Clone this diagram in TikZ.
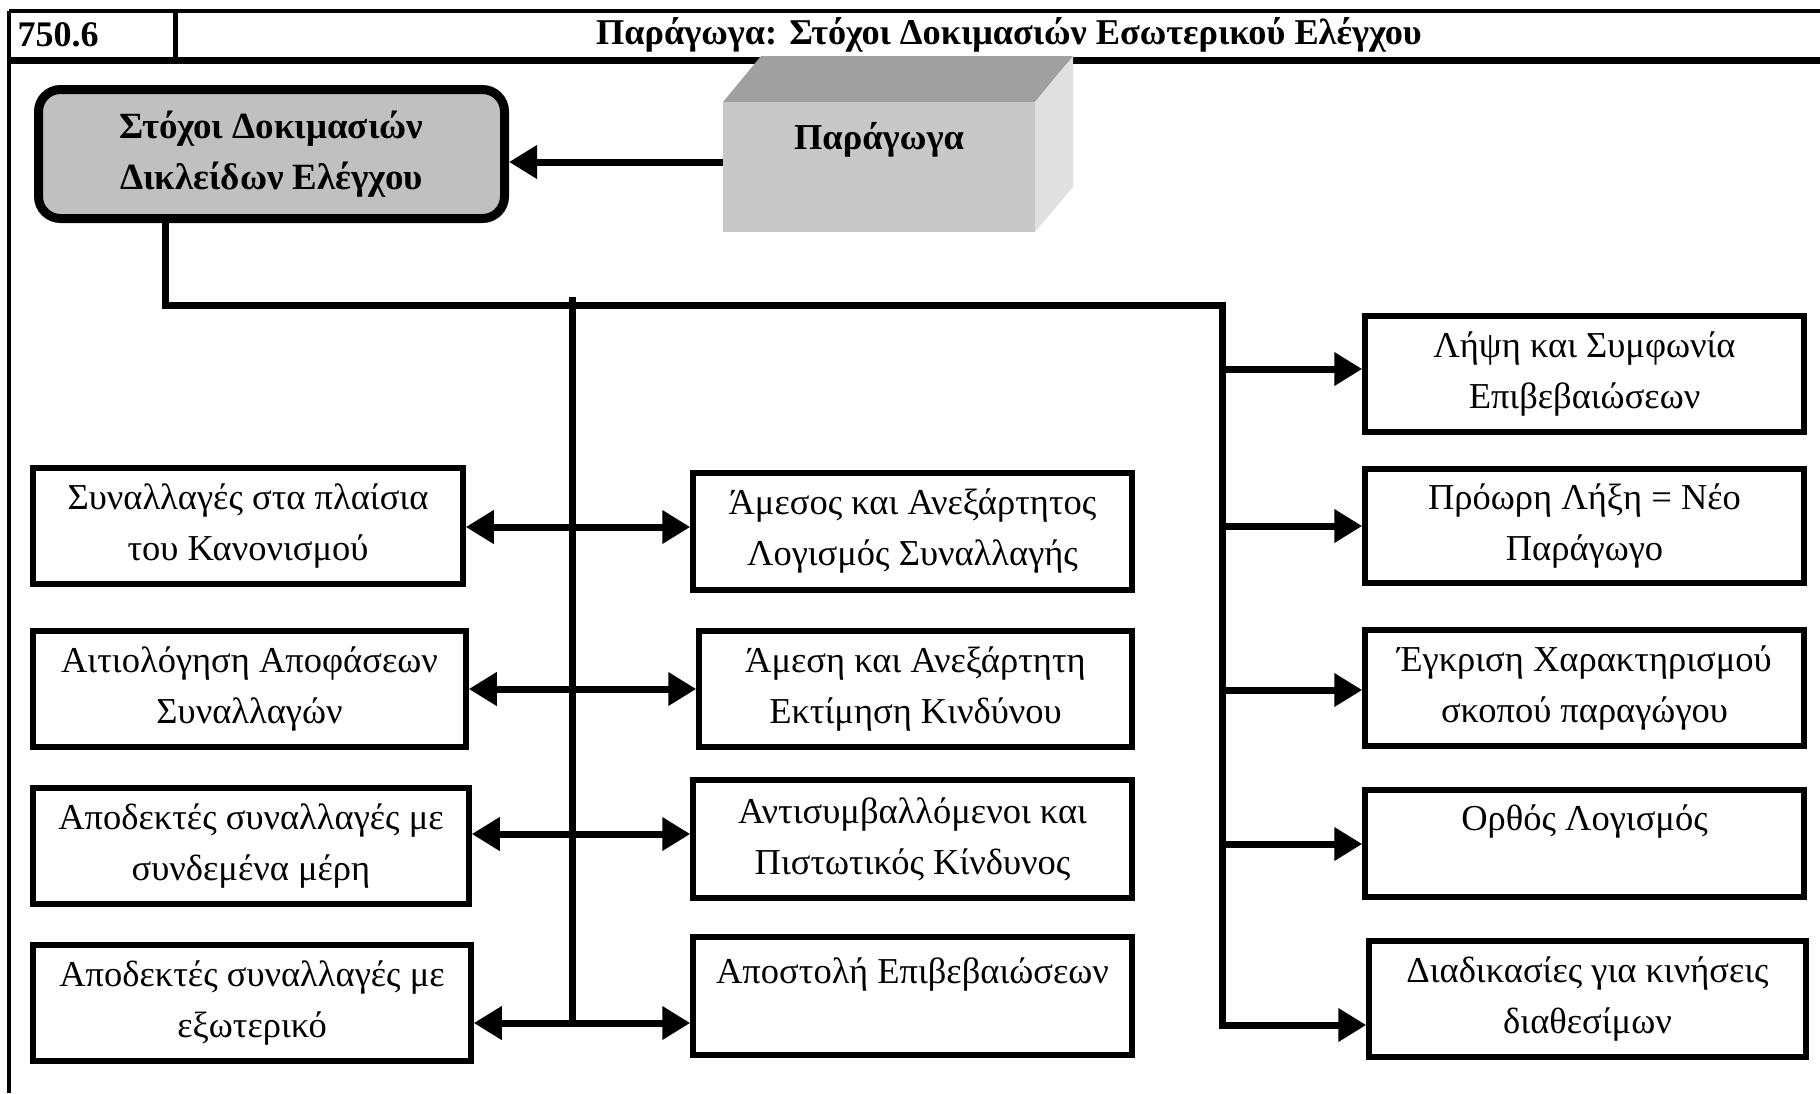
\documentclass[tikz,border=0pt]{standalone}
\usepackage{fontspec}
\setmainfont{Liberation Serif}
\usetikzlibrary{arrows.meta}
\definecolor{topface}{RGB}{160,160,160}
\definecolor{frontface}{RGB}{200,200,200}
\definecolor{sideface}{RGB}{224,224,224}
\definecolor{mainfill}{RGB}{192,192,192}
\begin{document}
\begin{tikzpicture}[x=1pt,y=-1pt,
  box/.style={draw, line width=5.5pt, inner sep=0pt, align=center,
    font=\fontsize{36.5}{51}\selectfont},
  conn/.style={line width=7pt},
  tipr/.style={-{Triangle[length=28pt,width=32pt]}},
  tipd/.style={{Triangle[length=28pt,width=32pt]}-{Triangle[length=28pt,width=32pt]}},
  frame/.style={line width=4pt},
  bold/.style={font=\fontsize{36}{40}\selectfont\bfseries}
]
\useasboundingbox (0,0) rectangle (1820,1093);
% frame
\draw[frame] (9,11) -- (1820,11);
\draw[frame] (9,11) -- (9,1093);
\draw[line width=5pt] (175,11) -- (175,59);
\draw[line width=7pt] (9,60) -- (1820,60);
\node[bold, anchor=west] (num) at (14,35) {750.6};
\node[bold, font=\fontsize{36.3}{40}\selectfont\bfseries] (title) at (1009,35) {Παράγωγα: Στόχοι Δοκιμασιών Εσωτερικού Ελέγχου};
% 3D box
\fill[topface] (723,102) -- (761,56) -- (1073,56) -- (1035,102) -- cycle;
\fill[sideface] (1035,102) -- (1073,56) -- (1073,187) -- (1035,232) -- cycle;
\node[fill=frontface, minimum width=312pt, minimum height=130pt, inner sep=0pt] (par) at (879,167) {};
\node[font=\fontsize{36.5}{40}\selectfont\bfseries] (partext) at (879,140) {Παράγωγα};
% main box
\node[draw, line width=9pt, fill=mainfill, rounded corners=22pt, minimum width=466pt,
  minimum height=129pt, inner sep=0pt, align=center,
  font=\fontsize{37}{51}\selectfont\bfseries] (main) at (271.5,154) {Στόχοι Δοκιμασιών\\Δικλείδων Ελέγχου};
\draw[conn, tipr] (par.west |- 0,162) -- (main.east |- 0,162);
% left boxes
\node[box, minimum width=430pt, minimum height=116pt] (L1) at (248,526) {Συναλλαγές στα πλαίσια\\του Κανονισμού};
\node[box, minimum width=433pt, minimum height=116pt] (L2) at (249.5,689) {Αιτιολόγηση Αποφάσεων\\Συναλλαγών};
\node[box, minimum width=436pt, minimum height=116pt] (L3) at (251,846) {Αποδεκτές συναλλαγές με\\συνδεμένα μέρη};
\node[box, minimum width=438pt, minimum height=116pt] (L4) at (252,1003) {Αποδεκτές συναλλαγές με\\εξωτερικό};
% middle boxes
\node[box, minimum width=439pt, minimum height=117pt] (M1) at (912.5,531.5) {Άμεσος και Ανεξάρτητος\\Λογισμός Συναλλαγής};
\node[box, minimum width=433pt, minimum height=116pt] (M2) at (915.5,689) {Άμεση και Ανεξάρτητη\\Εκτίμηση Κινδύνου};
\node[box, minimum width=439pt, minimum height=118pt] (M3) at (912.5,839) {Αντισυμβαλλόμενοι και\\Πιστωτικός Κίνδυνος};
\node[box, minimum width=439pt, minimum height=118pt] (M4) at (912.5,996) {Αποστολή Επιβεβαιώσεων\\\mbox{}};
% right boxes
\node[box, minimum width=439pt, minimum height=116pt] (R1) at (1584.5,374) {Λήψη και Συμφωνία\\Επιβεβαιώσεων};
\node[box, minimum width=439pt, minimum height=114pt] (R2) at (1584.5,526) {Πρόωρη Λήξη = Νέο\\Παράγωγο};
\node[box, minimum width=439pt, minimum height=116pt] (R3) at (1584.5,688) {Έγκριση Χαρακτηρισμού\\σκοπού παραγώγου};
\node[box, minimum width=439pt, minimum height=107pt] (R4) at (1584.5,843.5) {Ορθός Λογισμός\\\mbox{}};
\node[box, minimum width=437pt, minimum height=116pt] (R5) at (1587.5,999) {Διαδικασίες για κινήσεις\\διαθεσίμων};
% bus lines
\coordinate (j1) at (165,305);
\coordinate (j2) at (1222,305);
\coordinate (mtop) at (572,297);
\coordinate (mbot) at (572,1027);
\draw[conn, tipr] (main.south -| j1) -- (j1) -- (j2) -- (1222,1025) -- (R5.west |- 0,1025);
\draw[conn] (mtop) -- (mbot);
% left double arrows
\draw[conn, tipd] (L1.east |- 0,527) -- (M1.west |- 0,527);
\draw[conn, tipd] (L2.east |- 0,689) -- (M2.west |- 0,689);
\draw[conn, tipd] (L3.east |- 0,834) -- (M3.west |- 0,834);
\draw[conn, tipd] (L4.east |- 0,1023) -- (M4.west |- 0,1023);
% right arrows
\draw[conn, tipr] (j2 |- 0,369) -- (R1.west |- 0,369);
\draw[conn, tipr] (j2 |- 0,526) -- (R2.west |- 0,526);
\draw[conn, tipr] (j2 |- 0,690) -- (R3.west |- 0,690);
\draw[conn, tipr] (j2 |- 0,844) -- (R4.west |- 0,844);
\end{tikzpicture}
\end{document}
